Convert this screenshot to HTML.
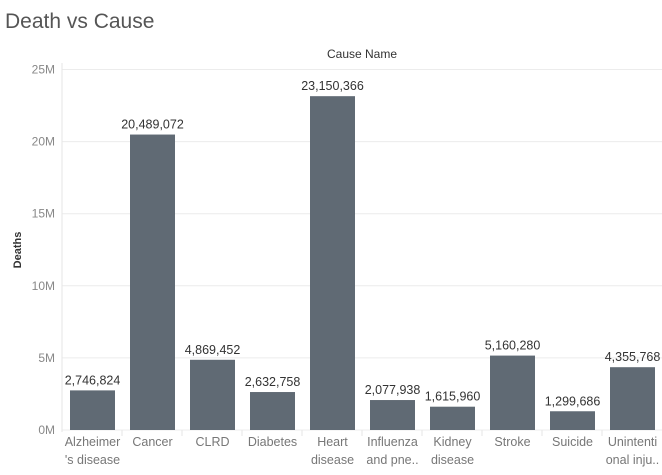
<!DOCTYPE html>
<html><head><meta charset="utf-8"><style>
body{margin:0;background:#fff;width:662px;height:470px;overflow:hidden;font-family:"Liberation Sans",sans-serif}
</style></head><body>
<svg id="chart" width="662" height="470" xmlns="http://www.w3.org/2000/svg">
<text x="5" y="28" font-size="21" fill="#555" font-family="Liberation Sans, sans-serif">Death vs Cause</text>
<text x="362" y="58" font-size="12" fill="#333" text-anchor="middle">Cause Name</text>
<text transform="translate(21,250) rotate(-90)" font-size="11" font-weight="bold" fill="#333" text-anchor="middle">Deaths</text>
</svg>
<script>
const categories1=["Alzheimer","Cancer","CLRD","Diabetes","Heart","Influenza","Kidney","Stroke","Suicide","Unintenti"];
const categories2=["'s disease","","","","disease","and pne..","disease","","","onal inju.."];
const deaths=[2746824,20489072,4869452,2632758,23150366,2077938,1615960,5160280,1299686,4355768];
const ticks=[0,5,10,15,20,25];
const ns="http://www.w3.org/2000/svg";
const svg=document.getElementById('chart');
const y0=430,pxPerM=14.42,x0=62,step=60;
function y(v){return y0-v/1e6*pxPerM;}
function x(i){return x0+i*step;}
function mk(t,a,txt){const e=document.createElementNS(ns,t);for(const k in a)e.setAttribute(k,a[k]);if(txt!==undefined)e.textContent=txt;svg.appendChild(e);return e;}
ticks.forEach(t=>{
 const g=mk('line',{x1:x0,x2:662,y1:y(t*1e6),y2:y(t*1e6),stroke:'#ececec','stroke-width':1});
 
 
 const l=mk('text',{x:55,y:y(t*1e6)+4,'font-size':12,fill:'#888','text-anchor':'end'},t+'M');
 
 
});
const ax=mk('line',{x1:x0,x2:x0,y1:63,y2:y0+2,stroke:'#e6e6e6'});


deaths.forEach((d,i)=>{
 const cx=x(i)+30.5;
 const r=mk('rect',{x:x(i)+8,y:y(d),width:45,height:y0-y(d),fill:'#606a74'});
 
 
 const v=mk('text',{x:cx,y:y(d)-6,'font-size':12.5,fill:'#333','text-anchor':'middle'},d.toLocaleString('en-US'));
 
 
 if(i>0){const s=mk('line',{x1:x(i),x2:x(i),y1:y0,y2:y0+6,stroke:'#e6e6e6'});
 
 }
 const c=mk('text',{x:cx,y:446,'font-size':12.5,fill:'#777','text-anchor':'middle'},categories1[i]);
 
 
 if(categories2[i]){const c2=mk('text',{x:cx,y:464,'font-size':12.5,fill:'#777','text-anchor':'middle'},categories2[i]);
 
 }
});
</script>
</body></html>
